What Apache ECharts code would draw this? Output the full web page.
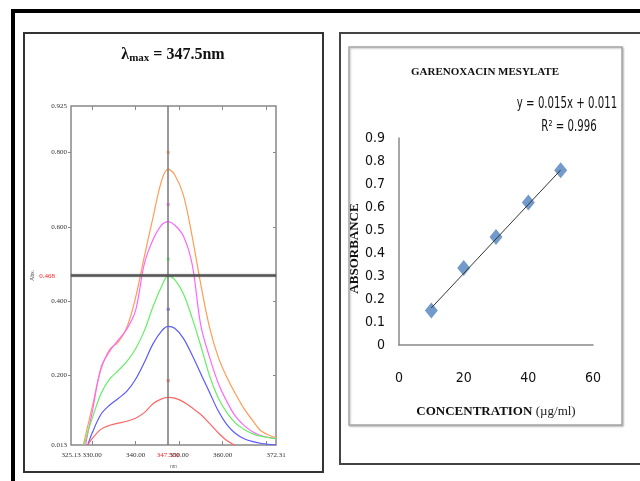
<!DOCTYPE html>
<html>
<head>
<meta charset="utf-8">
<script src="https://cdn.jsdelivr.net/npm/echarts@6/dist/echarts.min.js"></script>
<style>
  html, body { margin: 0; padding: 0; background: #fff; }
  #myCharts { width: 640px; height: 481px; }
</style>
</head>
<body>
<div id="myCharts"></div>
<script>
// left panel: UV spectra (wavelength nm -> absorbance)
const waveNm = [328, 328.5, 329, 330, 332, 334, 336, 338, 340, 342, 344, 346, 347.5, 349, 351, 353, 355, 357, 359, 361, 363, 365, 367, 369, 372.31];
const specOrange = [0.013, 0.04, 0.065, 0.115, 0.215, 0.27, 0.29, 0.33, 0.41, 0.52, 0.625, 0.725, 0.755, 0.74, 0.685, 0.575, 0.445, 0.33, 0.25, 0.195, 0.15, 0.11, 0.078, 0.05, 0.032];
const specMagenta = [null, 0.013, 0.045, 0.1, 0.22, 0.265, 0.295, 0.325, 0.375, 0.5, 0.565, 0.605, 0.614, 0.605, 0.575, 0.5, 0.335, 0.25, 0.18, 0.13, 0.09, 0.065, 0.048, 0.038, 0.03];
const specGreen = [0.013, 0.025, 0.049, 0.084, 0.15, 0.19, 0.213, 0.238, 0.272, 0.32, 0.385, 0.44, 0.468, 0.458, 0.42, 0.355, 0.28, 0.2, 0.14, 0.1, 0.072, 0.055, 0.043, 0.036, 0.03];
const specBlue = [null, null, 0.013, 0.045, 0.095, 0.12, 0.138, 0.158, 0.19, 0.235, 0.285, 0.32, 0.332, 0.327, 0.3, 0.255, 0.205, 0.155, 0.105, 0.068, 0.044, 0.03, 0.022, 0.017, 0.013];
const specRed = [null, null, 0.013, 0.03, 0.055, 0.066, 0.072, 0.077, 0.085, 0.1, 0.124, 0.137, 0.141, 0.139, 0.129, 0.113, 0.095, 0.071, 0.046, 0.025, 0.011, null, null, null, null];
const peakMarkY = [0.8, 0.66, 0.513, 0.378, 0.186];
const lambdaMax = 347.5;
const absAtMax = 0.468;
const specXLabels = [325.13, 330, 340, 347.5, 350, 360, 372.31];
const specXTicks = [330, 340, 350, 360, 370];
const specYLabels = [0.013, 0.2, 0.4, 0.468, 0.6, 0.8, 0.925];
const specYTicks = [0.2, 0.4, 0.6, 0.8];

// right panel: calibration curve
const concX = [10, 20, 30, 40, 50];
const absY = [0.15, 0.335, 0.47, 0.62, 0.76];
const trendX = [10, 50];
const trendY = [0.161, 0.761];

const specColors = ["#ff9c55", "#ff66ff", "#66ee66", "#5a5aff", "#ff6666"];
const specData = [specOrange, specMagenta, specGreen, specBlue, specRed];

const serif = "'Liberation Serif', 'Times New Roman', serif";
const narrow = "'Liberation Sans Narrow', 'DejaVu Sans Condensed', 'Liberation Sans', sans-serif";

const myCharts = echarts.init(document.getElementById("myCharts"));

let series = specData.map((arr, k) => ({
  type: "line",
  xAxisIndex: 0,
  yAxisIndex: 0,
  data: waveNm.map((w, i) => [w, arr[i]]),
  smooth: 0.35,
  showSymbol: false,
  silent: true,
  z: 3,
  lineStyle: { color: specColors[k], width: 1.2 }
}));

// crosshair at lambda max
series[2].markLine = {
  silent: true,
  symbol: "none",
  label: { show: false },
  data: [
    { xAxis: lambdaMax, lineStyle: { color: "#777", width: 1.5, type: "solid" } },
    { yAxis: absAtMax, lineStyle: { color: "#555", width: 2.5, type: "solid", shadowColor: "rgba(0,0,0,0.3)", shadowBlur: 2 } }
  ]
};

series.push({
  type: "scatter",
  xAxisIndex: 0,
  yAxisIndex: 0,
  symbol: "rect",
  symbolSize: 3,
  z: 4,
  data: peakMarkY.map((v, k) => ({ value: [lambdaMax, v], itemStyle: { color: specColors[k] } }))
});

series.push({
  type: "line",
  xAxisIndex: 2,
  yAxisIndex: 2,
  data: trendX.map((x, i) => [x, trendY[i]]),
  showSymbol: false,
  silent: true,
  lineStyle: { color: "#333", width: 1 }
});

series.push({
  type: "scatter",
  xAxisIndex: 2,
  yAxisIndex: 2,
  symbol: "diamond",
  symbolSize: [13, 16],
  itemStyle: { color: "#4f81bd" },
  data: concX.map((x, i) => [x, absY[i]])
});

let options = {
  backgroundColor: "#fff",
  animation: false,
  graphic: [
    // outer frame
    { type: "rect", shape: { x: 13, y: 11, width: 700, height: 600 }, style: { fill: null, stroke: "#000", lineWidth: 4 } },
    // left panel box
    { type: "rect", shape: { x: 24, y: 33, width: 299, height: 439 }, style: { fill: null, stroke: "#333", lineWidth: 2 } },
    // right panel box
    { type: "rect", shape: { x: 340, y: 33, width: 400, height: 431 }, style: { fill: null, stroke: "#444", lineWidth: 2 } },
    // excel chart area
    {
      type: "rect",
      shape: { x: 349, y: 47, width: 273, height: 378 },
      style: { fill: "#fff", stroke: "#a6a6a6", lineWidth: 1.5, shadowColor: "rgba(0,0,0,0.25)", shadowBlur: 2, shadowOffsetX: 1, shadowOffsetY: 1 },
      z: -1
    },
    {
      type: "text",
      x: 173,
      y: 57,
      style: {
        text: "{a|λ}{s|max}{a| = 347.5nm}",
        align: "center",
        verticalAlign: "middle",
        rich: {
          a: { fontSize: 16, fontWeight: "bold", fontFamily: serif, fill: "#111", lineHeight: 20, verticalAlign: "top" },
          s: { fontSize: 11, fontWeight: "bold", fontFamily: serif, fill: "#111", lineHeight: 20, padding: [6, 0, 0, 0], verticalAlign: "top" }
        }
      }
    },
    {
      type: "text",
      x: 485,
      y: 72,
      style: { text: "GARENOXACIN MESYLATE", align: "center", verticalAlign: "middle", fontSize: 11, fontWeight: "bold", fontFamily: serif, fill: "#111" }
    },
    {
      type: "text",
      x: 567,
      y: 104,
      scaleX: 0.87,
      scaleY: 1.2,
      style: { text: "y = 0.015x + 0.011", align: "center", verticalAlign: "middle", fontSize: 13, fontFamily: narrow, fill: "#111" }
    },
    {
      type: "text",
      x: 569,
      y: 127,
      scaleX: 0.87,
      scaleY: 1.2,
      style: { text: "R² = 0.996", align: "center", verticalAlign: "middle", fontSize: 13, fontFamily: narrow, fill: "#111" }
    }
  ],
  grid: [
    { left: 71, top: 106, width: 205, height: 339, show: true, borderColor: "#888", borderWidth: 1.5 },
    { left: 399, top: 138, width: 194, height: 207 }
  ],
  xAxis: [
    {
      gridIndex: 0,
      type: "value",
      min: 325.13,
      max: 372.31,
      name: "nm",
      nameLocation: "middle",
      nameGap: 15,
      nameTextStyle: { fontSize: 5, color: "#555" },
      axisLine: { show: false },
      axisTick: { show: true, customValues: specXTicks, inside: true, length: 4, lineStyle: { color: "#888" } },
      axisLabel: {
        customValues: specXLabels,
        fontSize: 7,
        fontFamily: serif,
        color: "#333",
        margin: 7,
        formatter: function(v) {
          return v === lambdaMax ? "{r|347.500}" : v.toFixed(2);
        },
        rich: { r: { color: "#f22", fontSize: 7, fontFamily: serif } }
      },
      splitLine: { show: false }
    },
    {
      gridIndex: 0,
      type: "value",
      position: "top",
      min: 325.13,
      max: 372.31,
      axisLine: { show: false },
      axisTick: { show: true, customValues: specXTicks, inside: true, length: 4, lineStyle: { color: "#888" } },
      axisLabel: { show: false },
      splitLine: { show: false }
    },
    {
      gridIndex: 1,
      type: "value",
      min: 0,
      max: 60,
      interval: 20,
      name: "{b|CONCENTRATION} {n|(µg/ml)}",
      nameLocation: "middle",
      nameGap: 60,
      nameTextStyle: {
        rich: {
          b: { fontSize: 13, fontWeight: "bold", fontFamily: serif, color: "#111" },
          n: { fontSize: 13, fontFamily: serif, color: "#222" }
        }
      },
      axisLine: { lineStyle: { color: "#888", width: 1.5 } },
      axisTick: { show: false },
      axisLabel: { fontSize: 14, fontFamily: narrow, color: "#111", margin: 26 },
      splitLine: { show: false }
    }
  ],
  yAxis: [
    {
      gridIndex: 0,
      type: "value",
      min: 0.013,
      max: 0.925,
      name: "Abs.",
      nameLocation: "middle",
      nameGap: 30,
      nameRotate: 90,
      nameTextStyle: { fontSize: 6, color: "#444", fontFamily: serif },
      axisLine: { show: false },
      axisTick: { show: true, customValues: specYTicks, length: 3, lineStyle: { color: "#888" } },
      axisLabel: {
        customValues: specYLabels,
        fontSize: 7,
        fontFamily: serif,
        color: "#333",
        margin: 4,
        formatter: function(v) {
          return v === absAtMax ? "{r|0.468}" : v.toFixed(3);
        },
        rich: { r: { color: "#f22", fontSize: 7, fontFamily: serif, padding: [0, 12, 0, 0] } }
      },
      splitLine: { show: false }
    },
    {
      gridIndex: 0,
      type: "value",
      position: "right",
      min: 0.013,
      max: 0.925,
      axisLine: { show: false },
      axisTick: { show: true, customValues: specYTicks, inside: true, length: 3, lineStyle: { color: "#888" } },
      axisLabel: { show: false },
      splitLine: { show: false }
    },
    {
      gridIndex: 1,
      type: "value",
      min: 0,
      max: 0.9,
      interval: 0.1,
      name: "ABSORBANCE",
      nameLocation: "middle",
      nameGap: 30,
      nameRotate: 90,
      nameTextStyle: { fontSize: 13, fontWeight: "bold", fontFamily: serif, color: "#111", padding: [0, 14, 0, 0] },
      axisLine: { show: true, lineStyle: { color: "#888", width: 1.5 } },
      axisTick: { show: false },
      axisLabel: {
        fontSize: 14,
        fontFamily: narrow,
        color: "#111",
        margin: 14,
        formatter: function(v) {
          return v === 0 ? "0" : v.toFixed(1);
        }
      },
      splitLine: { show: false }
    }
  ],
  series: series
};

myCharts.setOption(options);
</script>
</body>
</html>
